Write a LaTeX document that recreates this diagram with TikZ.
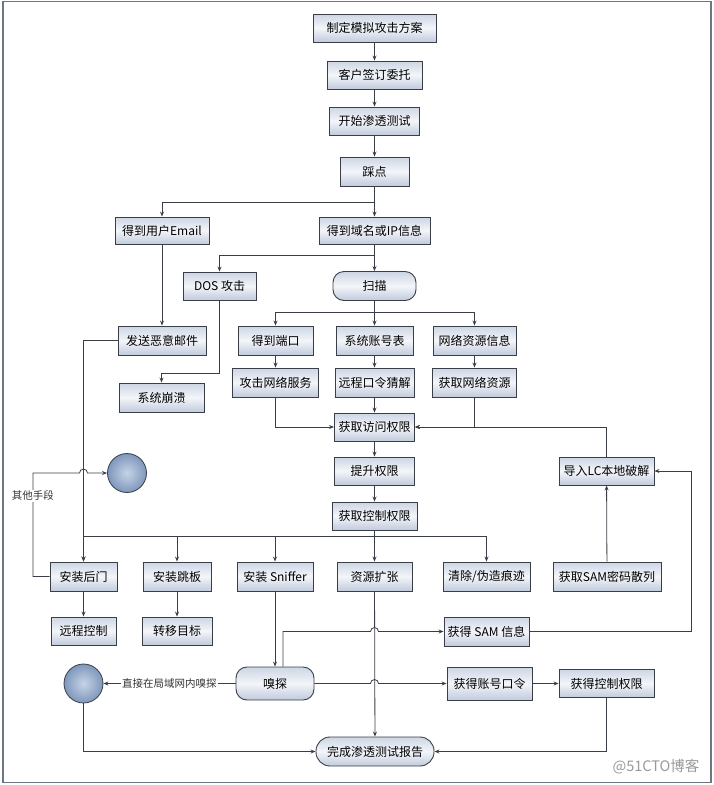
\documentclass[tikz,border=0pt]{standalone}
\usepackage{fontspec}
\setmainfont{Noto Sans CJK SC}
\usepackage{tikz}
\usetikzlibrary{arrows.meta,calc,positioning}
\definecolor{boxtop}{HTML}{CDD6E4}
\definecolor{boxmid}{HTML}{F3F5F9}
\definecolor{boxbot}{HTML}{C1CBDC}
\definecolor{edgegray}{HTML}{3A3F47}
\definecolor{ballin}{HTML}{C6D3E6}
\definecolor{ballout}{HTML}{7E97BC}
\definecolor{framegray}{HTML}{6E7684}

\begin{document}
\begin{tikzpicture}[x=1pt,y=-1pt,>={Stealth[length=5pt,width=4pt]},
  box/.style={draw=edgegray,line width=0.9pt,top color=boxtop,bottom color=boxbot,middle color=boxmid,
    minimum height=28pt,inner sep=2pt,font=\fontsize{12}{14}\selectfont},
  rbox/.style={box,rounded corners=11pt},
  ball/.style={circle,draw=edgegray,line width=0.8pt,inner color=ballin,outer color=ballout,minimum size=39pt},
  link/.style={draw=edgegray,line width=0.8pt,->},
  note/.style={fill=white,inner sep=1pt,font=\fontsize{10.5}{12}\selectfont,text=black!80}]
\useasboundingbox (0,0) rectangle (714,785);
\draw[draw=framegray,line width=1.5pt] (3,1.5) rectangle (711,782.5);
% main column, preparation
\node[box,minimum width=123pt] (plan) at (374.5,28) {制定模拟攻击方案};
\node[box,minimum width=95pt] (sign) at (374.5,75) {客户签订委托};
\node[box,minimum width=90pt] (start) at (374.5,121) {开始渗透测试};
\node[box,minimum width=69pt,minimum height=29pt] (recon) at (374.5,171.5) {踩点};
\draw[link] (plan) -- (sign);
\draw[link] (sign) -- (start);
\draw[link] (start) -- (recon);
% information gathering
\node[box,minimum width=94pt,minimum height=27pt] (email) at (162,230.5) {得到用户Email};
\node[box,minimum width=111pt,minimum height=27pt] (domain) at (374.5,230.5) {得到域名或IP信息};
\node[box,minimum width=73pt] (dos) at (219.5,286) {DOS 攻击};
\node[rbox,minimum width=83pt,minimum height=29pt] (scan) at (374.5,286) {扫描};
\coordinate (rbus) at (374.5,202);
\coordinate (dbus) at (374.5,255);
\coordinate (sbus) at (374.5,312);
\coordinate (dosc) at (219.5,373);
\draw[link] (recon.south) -- (rbus) -| (email.north);
\draw[link] (rbus) -- (domain.north);
\draw[link] (domain.south) -- (dbus) -| (dos.north);
\draw[link] (dbus) -- (scan.north);
% scanning results
\node[box,minimum width=88pt,minimum height=29pt] (mail) at (162,340.5) {发送恶意邮件};
\node[box,minimum width=75pt,minimum height=29pt] (port) at (275.5,340.5) {得到端口};
\node[box,minimum width=77pt,minimum height=29pt] (sysacc) at (374.5,340.5) {系统账号表};
\node[box,minimum width=83pt,minimum height=29pt] (netinfo) at (474.5,340.5) {网络资源信息};
\node[box,minimum width=86pt,minimum height=29pt] (attsvc) at (275.5,382.5) {攻击网络服务};
\node[box,minimum width=79pt,minimum height=29pt] (guess) at (374.5,382.5) {远程口令猜解};
\node[box,minimum width=84pt,minimum height=29pt] (getres) at (474.5,382.5) {获取网络资源};
\node[box,minimum width=85pt,minimum height=29pt] (crash) at (161.5,397.5) {系统崩溃};
\draw[link] (email) -- (mail);
\draw[link] (dos.south) -- (dosc) -| (crash.north);
\draw[link] (scan.south) -- (sbus) -| (port.north);
\draw[link] (sbus) -- (sysacc.north);
\draw[link] (sbus) -| (netinfo.north);
\draw[link] (port) -- (attsvc);
\draw[link] (sysacc) -- (guess);
\draw[link] (netinfo) -- (getres);
% privileges
\node[box,minimum width=80pt] (access) at (374.5,427) {获取访问权限};
\node[box,minimum width=80pt] (raise) at (374.5,471) {提升权限};
\node[box,minimum width=85pt] (ctrl) at (374.5,516) {获取控制权限};
\node[box,minimum width=95pt] (lc) at (606.5,471) {导入LC本地破解};
\draw[link] (attsvc.south) |- (access.west);
\draw[link] (guess) -- (access);
\draw[link] (getres.south) |- (access.east);
\draw[link] (lc.north) |- (access.east);
\draw[link] (access) -- (raise);
\draw[link] (raise) -- (ctrl);
% after control
\node[ball] (end1) at (127,473) {};
\node[box,minimum width=67pt,minimum height=29pt] (backdoor) at (83.5,576.5) {安装后门};
\node[box,minimum width=68pt,minimum height=29pt] (hop) at (177,576.5) {安装跳板};
\node[box,minimum width=76pt,minimum height=29pt] (sniffer) at (275,576.5) {安装 Sniffer};
\node[box,minimum width=75pt,minimum height=29pt] (expand) at (374.5,576.5) {资源扩张};
\node[box,minimum width=87pt,minimum height=29pt] (clean) at (486.5,576.5) {清除/伪造痕迹};
\node[box,minimum width=108pt,minimum height=29pt] (samh) at (607,576.5) {获取SAM密码散列};
\node[box,minimum width=65pt] (remote) at (83.5,631) {远程控制};
\node[box,minimum width=70pt] (target) at (177,631) {转移目标};
\node[box,minimum width=85pt,minimum height=29pt] (samg) at (486.5,631.5) {获得 SAM 信息};
\coordinate (cbus) at (374.5,536);
\coordinate (othr) at (33,473);
\coordinate (samr) at (691,631.5);
\draw[link] (mail.west) -| (backdoor.north);
\draw[link] (ctrl.south) -- (cbus) -| (backdoor.north);
\draw[link] (cbus) -| (hop.north);
\draw[link] (cbus) -| (sniffer.north);
\draw[link] (cbus) -- (expand.north);
\draw[link] (cbus) -| (clean.north);
\draw[link] (backdoor.west) -| node[note,pos=0.89] {其他手段} (othr)
  -- ($(othr -| backdoor.north)+(-4pt,0)$) arc[start angle=180,end angle=0,radius=4pt] -- (end1.west);
\draw[link] (backdoor) -- (remote);
\draw[link] (hop) -- (target);
\draw[link] (samh) -- (lc);
\draw[link] (samg.east) -- (samr) |- (lc.east);
% sniffing and report
\node[rbox,minimum width=78pt,minimum height=33pt] (sniff) at (275,683.5) {嗅探};
\node[box,minimum width=85pt,minimum height=33pt] (acct) at (489.5,683.5) {获得账号口令};
\node[box,minimum width=95pt] (gctrl) at (606.5,683.5) {获得控制权限};
\node[ball] (end2) at (83.5,683.5) {};
\node[rbox,rounded corners=14pt,minimum width=118pt,minimum height=29pt] (report) at (375,751.5) {完成渗透测试报告};
\draw[link] (sniffer) -- (sniff);
\draw[link] ([xshift=8pt]sniff.north) |- ($(expand.south |- samg.west)+(-4pt,0)$)
  arc[start angle=180,end angle=0,radius=4pt] -- (samg.west);
\draw[link] (sniff.east) -- ($(expand.south |- sniff.east)+(-4pt,0)$)
  arc[start angle=180,end angle=0,radius=4pt] -- (acct.west);
\draw[link] (acct) -- (gctrl);
\draw[link] (sniff.west) -- node[note] {直接在局域网内嗅探} (end2.east);
\draw[link] (expand) -- (report);
\draw[link] (end2.south) |- (report.west);
\draw[link] (gctrl.south) |- (report.east);
\node[text=black!40,font=\fontsize{14.5}{16}\selectfont] (mark) at (656,767) {@51CTO博客};
\end{tikzpicture}
\end{document}
